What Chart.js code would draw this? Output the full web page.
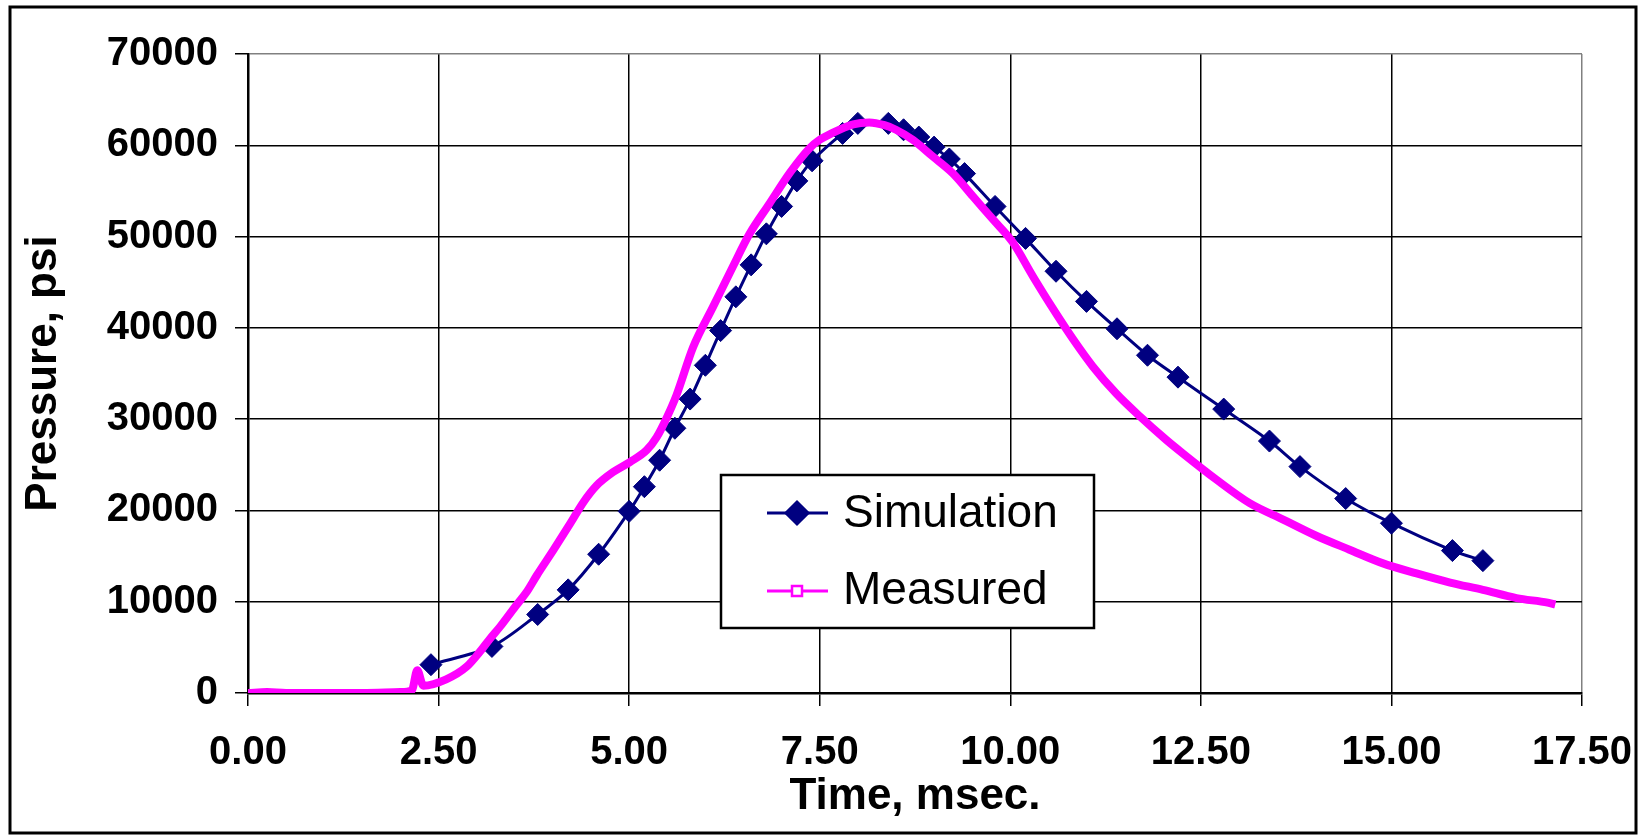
<!DOCTYPE html>
<html>
<head>
<meta charset="utf-8">
<script src="https://cdn.jsdelivr.net/npm/chart.js@4/dist/chart.umd.min.js"></script>
<style>
    body { margin: 0; background: #fff; }
    #wrap { width: 1640px; height: 835px; position: relative; }
</style>
</head>
<body>
<div id="wrap"><canvas id="chart"></canvas></div>
<script>
// Simulation (diamonds)
const simTime = [2.4, 3.2, 3.8, 4.2, 4.6, 5.0, 5.2, 5.4, 5.6, 5.8, 6.0, 6.2, 6.4, 6.6, 6.8, 7.0, 7.2, 7.4, 7.8, 8.0,
    8.4, 8.6, 8.8, 9.0, 9.2, 9.4, 9.8, 10.2, 10.6, 11.0, 11.4, 11.8, 12.2, 12.8, 13.4, 13.8, 14.4, 15.0, 15.8, 16.2]
const simPressure = [3100, 5100, 8600, 11300, 15200, 19900, 22600, 25500, 29000, 32200, 35900, 39700, 43400, 46900, 50300, 53300, 56100, 58300, 61300, 62400,
    62400, 61700, 60900, 59800, 58500, 56900, 53300, 49800, 46200, 42900, 39900, 37000, 34600, 31100, 27600, 24800, 21300, 18600, 15600, 14500]

// Measured (dense trace)
const measTime = [0.00, 0.25, 0.50, 1.00, 1.50, 2.00, 2.15, 2.22, 2.30, 2.60, 2.87, 3.04, 3.17, 3.31, 3.50, 3.65, 3.79, 4.01, 4.23, 4.40,
    4.57, 4.79, 5.01, 5.23, 5.36, 5.49, 5.62, 5.84, 6.10, 6.36, 6.58, 6.84, 7.11, 7.37, 7.50, 7.63, 7.94, 8.15, 8.35, 8.50, 8.72,
    8.98, 9.25, 9.51, 9.77, 10.03, 10.30, 10.56, 10.82, 11.08, 11.39, 11.70, 12.05, 12.27, 12.70, 13.14, 13.58, 14.02, 14.45, 14.89, 15.33,
    15.77, 16.20, 16.64, 17.05, 17.15]
const measPressure = [0, 100, 0, 0, 0, 100, 300, 2500, 800, 1500, 2900, 4500, 5900, 7300, 9400, 11000, 12900, 15700, 18600, 20900,
    22700, 24200, 25300, 26600, 28000, 30100, 32600, 37900, 42300, 46700, 50300, 53600, 57000, 59700, 60600, 61200, 62300, 62500, 62200, 61700, 60600,
    58800, 56900, 54400, 51900, 49400, 45600, 42100, 38800, 35800, 32800, 30300, 27700, 26200, 23400, 20800, 19000, 17200, 15700, 14200, 13100,
    12100, 11300, 10400, 9900, 9700]

const xTicks = [0, 2.5, 5, 7.5, 10, 12.5, 15, 17.5]
const yTicks = [0, 10000, 20000, 30000, 40000, 50000, 60000, 70000]
const seriesNames = ['Simulation', 'Measured']

const FONT = '"Liberation Sans", Arial, sans-serif'

// legend box drawn inside the plot, like the Excel original
const legendBox = {
    id: 'legendBox',
    afterDraw(chart) {
        const ctx = chart.ctx
        ctx.save()
        ctx.fillStyle = '#fff'
        ctx.fillRect(721, 475, 373, 153)
        ctx.lineWidth = 2.5
        ctx.strokeStyle = '#000'
        ctx.strokeRect(721, 475, 373, 153)

        // simulation sample
        ctx.strokeStyle = '#000080'
        ctx.lineWidth = 3
        ctx.beginPath(); ctx.moveTo(767, 513); ctx.lineTo(828, 513); ctx.stroke()
        ctx.fillStyle = '#000080'
        Chart.helpers.drawPoint(ctx, { pointStyle: 'rectRot', radius: 11, borderWidth: 1 }, 797, 513)
        ctx.fill()

        // measured sample
        ctx.strokeStyle = '#ff00ff'
        ctx.lineWidth = 3
        ctx.beginPath(); ctx.moveTo(767, 591); ctx.lineTo(828, 591); ctx.stroke()
        ctx.fillStyle = '#fff'
        ctx.lineWidth = 2.5
        ctx.fillRect(792, 586, 10, 10)
        ctx.strokeRect(792, 586, 10, 10)

        ctx.fillStyle = '#000'
        ctx.font = '46px ' + FONT
        ctx.textBaseline = 'middle'
        ctx.textAlign = 'left'
        ctx.fillText(seriesNames[0], 843, 514)
        ctx.fillText(seriesNames[1], 843, 591)

        // outer chart border
        ctx.strokeStyle = '#000'
        ctx.lineWidth = 3
        ctx.strokeRect(10, 7, 1626, 826)
        ctx.restore()
    }
}

new Chart(document.getElementById('chart'), {
    type: 'line',
    data: {
        datasets: [{
            label: seriesNames[0],
            data: simTime.map((t, i) => ({ x: t, y: simPressure[i] })),
            borderColor: '#000080',
            backgroundColor: '#000080',
            borderWidth: 3,
            pointStyle: 'rectRot',
            pointRadius: 11,
            pointBorderWidth: 1,
            tension: 0.3,
            order: 2
        }, {
            label: seriesNames[1],
            data: measTime.map((t, i) => ({ x: t, y: measPressure[i] })),
            borderColor: '#ff00ff',
            backgroundColor: '#ff00ff',
            borderWidth: 8,
            pointRadius: 0,
            cubicInterpolationMode: 'monotone',
            order: 1
        }]
    },
    options: {
        responsive: true,
        maintainAspectRatio: false,
        animation: false,
        layout: { padding: { top: 54, right: 58, left: 0, bottom: 0 } },
        plugins: {
            legend: { display: false },
            tooltip: { enabled: false }
        },
        scales: {
            x: {
                type: 'linear',
                min: 0,
                max: 17.5,
                afterBuildTicks: s => { s.ticks = xTicks.map(v => ({ value: v })) },
                afterFit: s => { s.height = 142; s.paddingRight = 0; s.paddingLeft = 0 },
                ticks: {
                    color: '#000',
                    padding: 23,
                    maxRotation: 0,
                    font: { family: FONT, size: 40, weight: 'bold' },
                    callback: v => v.toFixed(2)
                },
                grid: {
                    color: c => (c.tick && c.tick.value === 17.5) ? '#808080' : '#000',
                    tickColor: '#000',
                    lineWidth: 1.5,
                    tickLength: 13
                },
                border: { color: '#000', width: 2.5 },
                title: {
                    display: true,
                    text: 'Time, msec.',
                    color: '#000',
                    font: { family: FONT, size: 44, weight: 'bold' },
                    padding: { top: 0, bottom: 12 }
                }
            },
            y: {
                min: 0,
                max: 70000,
                afterBuildTicks: s => { s.ticks = yTicks.map(v => ({ value: v })) },
                afterFit: s => { s.width = 248 },
                ticks: {
                    color: '#000',
                    padding: 17,
                    font: { family: FONT, size: 40, weight: 'bold' },
                    callback: v => String(v)
                },
                grid: {
                    color: c => (c.tick && c.tick.value === 70000) ? '#808080' : '#000',
                    tickColor: '#000',
                    lineWidth: 1.5,
                    tickLength: 13
                },
                border: { color: '#000', width: 2.5 },
                title: {
                    display: true,
                    text: 'Pressure, psi',
                    color: '#000',
                    font: { family: FONT, size: 44, weight: 'bold' },
                    padding: { top: 17, bottom: 0 }
                }
            }
        }
    },
    plugins: [legendBox]
})
</script>
</body>
</html>
